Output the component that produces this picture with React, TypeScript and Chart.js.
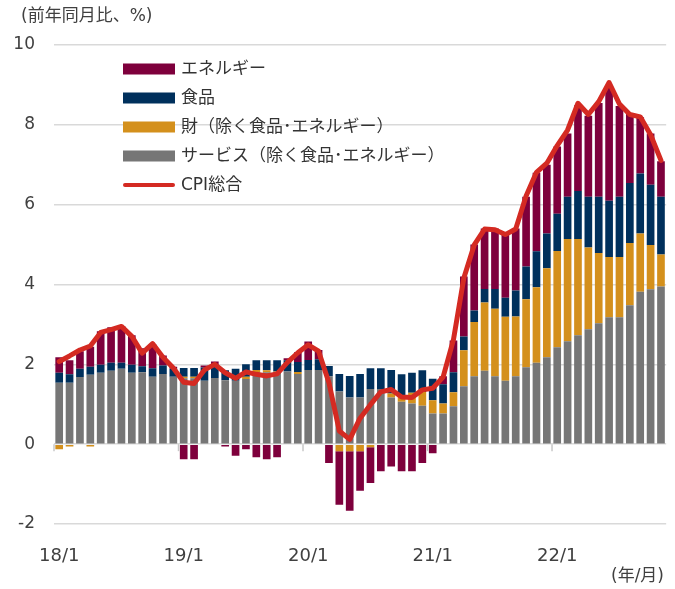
import { useEffect, useRef } from 'react';
import { Chart, registerables } from 'chart.js';
Chart.register(...registerables);

const FONT = '"DejaVu Sans", "Noto Sans CJK JP", "Noto Sans", sans-serif';

const categories = [
  '18/1','18/2','18/3','18/4','18/5','18/6','18/7','18/8','18/9','18/10','18/11','18/12',
  '19/1','19/2','19/3','19/4','19/5','19/6','19/7','19/8','19/9','19/10','19/11','19/12',
  '20/1','20/2','20/3','20/4','20/5','20/6','20/7','20/8','20/9','20/10','20/11','20/12',
  '21/1','21/2','21/3','21/4','21/5','21/6','21/7','21/8','21/9','21/10','21/11','21/12',
  '22/1','22/2','22/3','22/4','22/5','22/6','22/7','22/8','22/9','22/10','22/11',
];
const yearStartLabels = ['18/1', '19/1', '20/1', '21/1', '22/1'];
const yTicks = [-2, 0, 2, 4, 6, 8, 10];

const services = [
  1.54, 1.54, 1.68, 1.74, 1.79, 1.84, 1.89, 1.79, 1.8, 1.69, 1.76, 1.69,
  1.65, 1.65, 1.59, 1.66, 1.6, 1.59, 1.63, 1.8, 1.8, 1.8, 1.82, 1.76,
  1.86, 1.86, 1.7, 1.32, 1.17, 1.17, 1.38, 1.38, 1.17, 1.06, 1.02, 0.96,
  0.77, 0.77, 0.95, 1.45, 1.7, 1.84, 1.7, 1.59, 1.7, 1.93, 2.04, 2.18,
  2.43, 2.58, 2.73, 2.88, 3.03, 3.18, 3.18, 3.48, 3.82, 3.88, 3.95,
];
const goods = [
  -0.13, -0.06, 0, -0.06, 0, 0, 0, 0, 0, 0, 0, 0,
  0.04, 0.04, 0, 0, 0, 0, 0.06, 0.06, 0.05, 0.02, 0, 0.05,
  0, 0, 0, -0.18, -0.18, -0.18, -0.08, -0.02, 0.1, 0.12, 0.27, 0.35,
  0.33, 0.25, 0.35, 0.9, 1.36, 1.71, 1.69, 1.6, 1.5, 1.7, 1.89, 2.23,
  2.41, 2.56, 2.41, 2.05, 1.76, 1.51, 1.51, 1.56, 1.46, 1.11, 0.8,
];
const food = [
  0.25, 0.21, 0.21, 0.2, 0.2, 0.2, 0.15, 0.2, 0.15, 0.21, 0.21, 0.2,
  0.22, 0.22, 0.33, 0.34, 0.25, 0.3, 0.31, 0.24, 0.25, 0.28, 0.28, 0.25,
  0.25, 0.27, 0.26, 0.44, 0.54, 0.59, 0.52, 0.52, 0.59, 0.57, 0.5, 0.54,
  0.54, 0.48, 0.5, 0.35, 0.29, 0.34, 0.5, 0.48, 0.65, 0.82, 0.9, 0.87,
  0.93, 1.06, 1.2, 1.27, 1.41, 1.41, 1.51, 1.5, 1.5, 1.51, 1.45,
];
const energy = [
  0.39, 0.35, 0.44, 0.5, 0.84, 0.89, 0.92, 0.74, 0.45, 0.6, 0.25, 0.05,
  -0.38, -0.38, 0.05, 0.07, -0.06, -0.29, -0.13, -0.33, -0.38, -0.33, 0.05, 0.24,
  0.46, 0.23, -0.47, -1.34, -1.49, -0.99, -0.89, -0.66, -0.56, -0.68, -0.68, -0.47,
  -0.23, 0.2, 0.8, 1.5, 1.65, 1.51, 1.51, 1.63, 1.55, 1.75, 1.97, 1.72,
  1.69, 1.58, 2.15, 2.03, 2.35, 2.9, 2.27, 1.73, 1.41, 1.28, 0.89,
];
const cpi = [
  2.07, 2.21, 2.36, 2.46, 2.8, 2.87, 2.95, 2.7, 2.28, 2.52, 2.18, 1.91,
  1.55, 1.52, 1.86, 2.0, 1.79, 1.65, 1.81, 1.75, 1.71, 1.76, 2.05, 2.29,
  2.49, 2.33, 1.54, 0.33, 0.12, 0.65, 0.99, 1.31, 1.37, 1.18, 1.17, 1.36,
  1.4, 1.68, 2.62, 4.16, 4.99, 5.39, 5.37, 5.25, 5.39, 6.22, 6.81, 7.04,
  7.48, 7.87, 8.54, 8.26, 8.58, 9.06, 8.52, 8.26, 8.2, 7.75, 7.11,
];

const seriesLabels = [
  'サービス（除く食品･エネルギー）',
  '財（除く食品･エネルギー）',
  '食品',
  'エネルギー',
  'CPI総合',
];
const legendOrder = [3, 2, 1, 0, 4];
const yAxisTitle = '(前年同月比、%)';
const xAxisTitle = '(年/月)';

const COLORS = {
  services: '#767676',
  goods: '#d4901c',
  food: '#00305c',
  energy: '#7e003c',
  cpi: '#d42a22',
  text: '#404040',
  grid: '#d9d9d9',
};

const overlayPlugin = {
  id: 'overlay',
  afterDatasetsDraw(chart: any) {
    const { ctx, scales } = chart;
    const x = scales.x;
    const y = scales.y;
    ctx.save();
    const y0 = y.getPixelForValue(0);
    ctx.strokeStyle = '#c8c8c8';
    ctx.lineWidth = 1.5;
    const half = (x.getPixelForValue(1) - x.getPixelForValue(0)) / 2;
    yearStartLabels.forEach((lab) => {
      const i = categories.indexOf(lab);
      if (i < 0) return;
      const px = x.getPixelForValue(i) - half;
      ctx.beginPath();
      ctx.moveTo(px, y0);
      ctx.lineTo(px, y0 + 7);
      ctx.stroke();
    });
    ctx.restore();
  },
  afterDraw(chart: any) {
    const { ctx } = chart;
    ctx.save();
    ctx.fillStyle = COLORS.text;
    ctx.textBaseline = 'middle';
    ctx.font = `17px ${FONT}`;
    ctx.textAlign = 'left';
    ctx.fillText(yAxisTitle, 21, 17);
    ctx.textAlign = 'right';
    ctx.fillText(xAxisTitle, 664, 577);

    // legend
    ctx.textAlign = 'left';
    ctx.font = `17px ${FONT}`;
    const ds = chart.data.datasets;
    legendOrder.forEach((di, row) => {
      const d = ds[di];
      const cy = 69 + row * 29;
      if (d.type === 'line') {
        ctx.strokeStyle = d.borderColor;
        ctx.lineWidth = 4;
        ctx.lineCap = 'round';
        ctx.beginPath();
        ctx.moveTo(125, cy);
        ctx.lineTo(173, cy);
        ctx.stroke();
      } else {
        ctx.fillStyle = d.backgroundColor;
        ctx.fillRect(123, cy - 5.5, 52, 11);
      }
      ctx.fillStyle = '#333333';
      ctx.fillText(d.label, 181, cy + 1);
    });
    ctx.restore();
  },
};

export default function App() {
  const ref = useRef<HTMLCanvasElement | null>(null);
  useEffect(() => {
    if (!ref.current) return;
    const barCommon = {
      type: 'bar' as const,
      stack: 'contrib',
      barPercentage: 0.74,
      categoryPercentage: 1,
      order: 1,
      borderWidth: 0,
    };
    const chart = new Chart(ref.current, {
      type: 'bar',
      data: {
        labels: categories,
        datasets: [
          { ...barCommon, label: seriesLabels[0], data: services, backgroundColor: COLORS.services },
          { ...barCommon, label: seriesLabels[1], data: goods, backgroundColor: COLORS.goods },
          { ...barCommon, label: seriesLabels[2], data: food, backgroundColor: COLORS.food },
          { ...barCommon, label: seriesLabels[3], data: energy, backgroundColor: COLORS.energy },
          {
            type: 'line',
            label: seriesLabels[4],
            data: cpi,
            stack: 'cpi',
            order: 0,
            borderColor: COLORS.cpi,
            backgroundColor: COLORS.cpi,
            borderWidth: 5,
            pointRadius: 0,
            tension: 0,
            borderJoinStyle: 'round',
            borderCapStyle: 'round',
          } as any,
        ],
      },
      options: {
        responsive: false,
        animation: false,
        layout: { padding: { left: 0, right: 3, top: 45, bottom: 0 } },
        plugins: {
          legend: { display: false },
          tooltip: { enabled: false },
        },
        scales: {
          x: {
            stacked: true,
            grid: { display: false },
            border: { display: false },
            ticks: {
              autoSkip: false,
              maxRotation: 0,
              minRotation: 0,
              padding: 14,
              color: COLORS.text,
              font: { family: FONT, size: 18 },
              callback: (_v: any, i: number) =>
                yearStartLabels.includes(categories[i]) ? categories[i] : '',
            },
            afterFit: (axis: any) => {
              axis.height = 65;
            },
          },
          y: {
            stacked: true,
            min: -2,
            max: 10,
            grid: {
              color: COLORS.grid,
              lineWidth: 1.5,
              drawTicks: false,
            },
            border: { display: false },
            ticks: {
              stepSize: 2,
              padding: 19,
              color: COLORS.text,
              font: { family: FONT, size: 17 },
              callback: (v: any) => (yTicks.includes(v) ? String(v) : ''),
            },
            afterFit: (axis: any) => {
              axis.width = 54;
            },
          },
        },
      },
      plugins: [overlayPlugin],
    });
    return () => chart.destroy();
  }, []);
  return (
    <div style={{ position: 'fixed', left: 0, top: 0, width: 675, height: 589, background: '#fff' }}>
      <canvas ref={ref} width={675} height={589} style={{ display: 'block' }} />
    </div>
  );
}
